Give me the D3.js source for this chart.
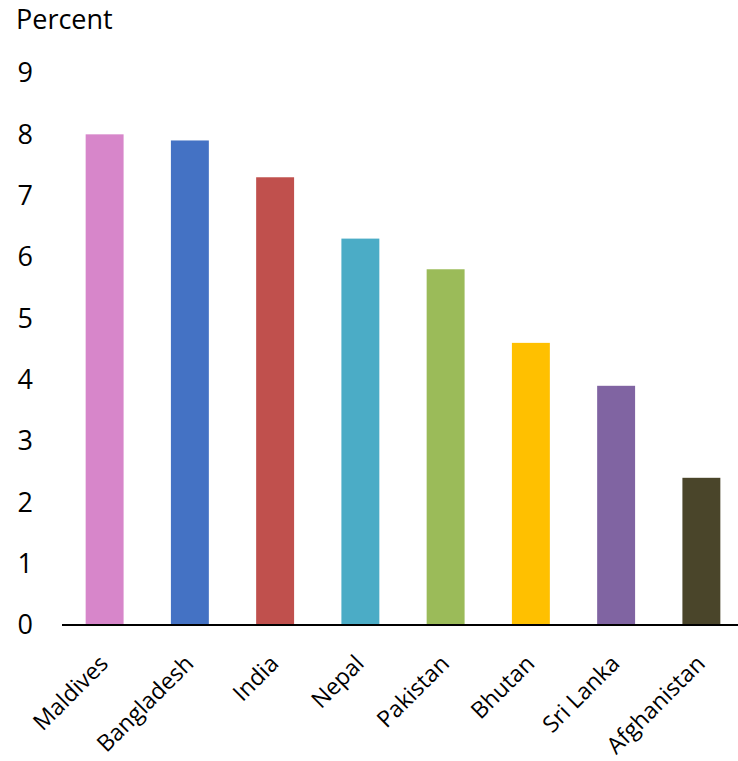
<!DOCTYPE html>
<html>
<head>
<meta charset="utf-8">
<script src="https://cdn.jsdelivr.net/npm/d3@7"></script>
<style>
  body { margin: 0; background: #fff; }
  text { font-family: "Open Sans", "Noto Sans", sans-serif; fill: #000; }
</style>
</head>
<body>
<div id="chart"></div>
<script>
var countries = ["Maldives", "Bangladesh", "India", "Nepal", "Pakistan", "Bhutan", "Sri Lanka", "Afghanistan"];
var values = [8.0, 7.9, 7.3, 6.3, 5.8, 4.6, 3.9, 2.4];
var colors = ["#D786CA", "#4472C4", "#C0504D", "#4BACC6", "#9BBB59", "#FFC000", "#8064A2", "#4A452A"];
var yTicks = [0, 1, 2, 3, 4, 5, 6, 7, 8, 9];

var width = 738, height = 761;
var plotLeft = 62, plotRight = 744; // axis runs off the right edge
var yZero = 625, yTop = 73;

var svg = d3.select("#chart").append("svg")
    .attr("width", width)
    .attr("height", height);

var x = d3.scaleBand()
    .domain(countries)
    .range([plotLeft, plotRight])
    .paddingInner(0.555)
    .paddingOuter(0.2775);

var y = d3.scaleLinear()
    .domain([0, 9])
    .range([yZero, yTop]);

// y axis title
svg.append("text")
    .attr("x", 16)
    .attr("y", 29)
    .style("font-size", "27px")
    .text("Percent");

// y tick labels (no axis line, no ticks)
svg.append("g").selectAll("text").data(yTicks).enter().append("text")
    .attr("x", 33)
    .attr("y", function (d) { return y(d); })
    .attr("dy", ".35em")
    .attr("text-anchor", "end")
    .style("font-size", "27px")
    .text(String);

// bars
svg.append("g").selectAll("rect").data(countries).enter().append("rect")
    .attr("x", function (d) { return x(d); })
    .attr("y", function (d, i) { return y(values[i]); })
    .attr("width", x.bandwidth())
    .attr("height", function (d, i) { return y(0) - y(values[i]); })
    .attr("fill", function (d, i) { return colors[i]; });

// baseline
svg.append("line")
    .attr("x1", plotLeft)
    .attr("x2", plotRight)
    .attr("y1", y(0))
    .attr("y2", y(0))
    .style("stroke", "#000")
    .style("stroke-width", 2);

// category labels, rotated -45
svg.append("g").selectAll("text").data(countries).enter().append("text")
    .attr("transform", function (d) {
        var cx = x(d) + x.bandwidth() / 2 + 5;
        return "translate(" + cx + "," + (y(0) + 40) + ") rotate(-45)";
    })
    .attr("text-anchor", "end")
    .style("font-size", "23px")
    .text(String);
</script>
</body>
</html>
